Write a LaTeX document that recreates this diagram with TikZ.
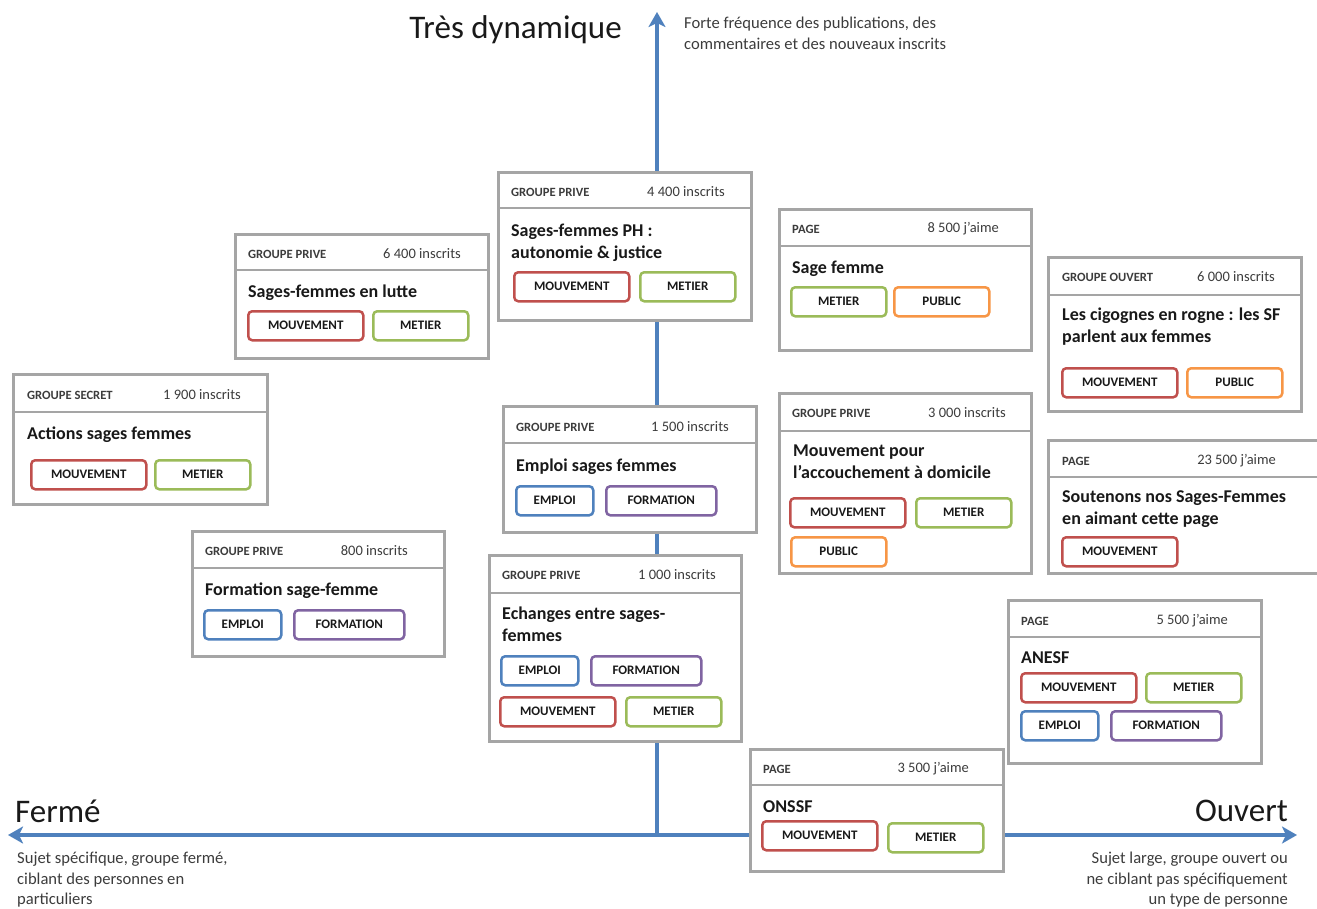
\documentclass[tikz,border=0pt]{standalone}
\usepackage{fontspec}
\setmainfont{Carlito}
\usetikzlibrary{arrows.meta}

\definecolor{axisblue}{RGB}{79,129,189}
\definecolor{cardgray}{RGB}{165,165,165}
\definecolor{inkgray}{RGB}{60,60,60}
\definecolor{titleink}{RGB}{25,25,25}
\definecolor{tagred}{RGB}{192,80,77}
\definecolor{taggreen}{RGB}{155,187,89}
\definecolor{tagblue}{RGB}{79,129,189}
\definecolor{tagpurple}{RGB}{128,100,162}
\definecolor{tagorange}{RGB}{247,150,70}

\begin{document}
\begin{tikzpicture}[x=1pt, y=-1pt,
    axis/.style={draw=axisblue, line width=4pt},
    axislabel/.style={inner sep=0pt, text=titleink, font=\fontsize{33}{38}\selectfont},
    axisnote/.style={inner sep=0pt, text=inkgray, yshift=7pt, font=\fontsize{16.6}{20.5}\selectfont},
    card/.style={draw=cardgray, line width=2.7pt, fill=white, rectangle, inner sep=0pt, anchor=north west},
    sepline/.style={draw=cardgray, line width=2.2pt},
    headtext/.style={anchor=west, inner sep=0pt, text=inkgray, font=\bfseries\fontsize{12.6}{14}\selectfont},
    counttext/.style={anchor=east, inner sep=0pt, text=inkgray, font=\fontsize{14.5}{17}\selectfont},
    titletext/.style={anchor=north west, inner sep=0pt, align=left, yshift=6pt, text=titleink, font=\bfseries\fontsize{18}{22}\selectfont},
    tagbox/.style={draw=#1, rounded corners=4pt, line width=2.5pt, fill=white, minimum height=29pt, inner sep=0pt, anchor=north west, text=titleink, font=\bfseries\fontsize{13}{15}\selectfont},
    mvt/.style={tagbox=tagred, minimum width=115pt},
    metier/.style={tagbox=taggreen, minimum width=95pt},
    emploi/.style={tagbox=tagblue, minimum width=77pt},
    formation/.style={tagbox=tagpurple, minimum width=110pt},
    public/.style={tagbox=tagorange, minimum width=95pt}]

  \useasboundingbox (0,0) rectangle (1317,908);

  % axes
  \coordinate (origin) at (657,835);
  \coordinate (top) at (657,12);
  \coordinate (left) at (8,835);
  \coordinate (right) at (1297,835);
  \draw[axis, -{Stealth[length=15pt, width=17pt, inset=4pt]}] (origin) -- (top);
  \draw[axis, {Stealth[length=15pt, width=17pt, inset=4pt]}-{Stealth[length=15pt, width=17pt, inset=4pt]}] (left) -- (right);

  \node[axislabel, anchor=east] (dynLabel) at (622,30) {Très dynamique};
  \node[axisnote, anchor=north west, align=left] (dynNote) at (684,24) {Forte fréquence des publications, des\\commentaires et des nouveaux inscrits};
  \node[axislabel, anchor=west] (fermeLabel) at (15,811) {Fermé};
  \node[axisnote, anchor=north west, align=left] (fermeNote) at (17,859) {Sujet spécifique, groupe fermé,\\ciblant des personnes en\\particuliers};
  \node[axislabel, anchor=east] (ouvertLabel) at (1288,811) {Ouvert};
  \node[axisnote, anchor=north east, align=right] (ouvertNote) at (1288,859) {Sujet large, groupe ouvert ou\\ne ciblant pas spécifiquement\\un type de personne};

  % Sages-femmes PH
  \node[card, minimum width=253pt, minimum height=148pt] (cardPH) at (497,171) {};
  \draw[sepline] ([yshift=-37pt]cardPH.north west) -- ([yshift=-37pt]cardPH.north east);
  \node[headtext] (headPH) at (511,192) {GROUPE PRIVE};
  \node[counttext] (countPH) at (725,192) {4 400 inscrits};
  \node[titletext] (titlePH) at (511,230) {Sages-femmes PH :\\autonomie \& justice};
  \node[mvt] (mvtPH) at (513,271) {MOUVEMENT};
  \node[metier] (metierPH) at (639,271) {METIER};

  % Sages-femmes en lutte
  \node[card, minimum width=253pt, minimum height=124pt] (cardLutte) at (234,233) {};
  \draw[sepline] ([yshift=-37pt]cardLutte.north west) -- ([yshift=-37pt]cardLutte.north east);
  \node[headtext] (headLutte) at (248,254) {GROUPE PRIVE};
  \node[counttext] (countLutte) at (461,254) {6 400 inscrits};
  \node[titletext] (titleLutte) at (248,291) {Sages-femmes en lutte};
  \node[mvt] (mvtLutte) at (247,310) {MOUVEMENT};
  \node[metier] (metierLutte) at (372,310) {METIER};

  % Actions sages femmes
  \node[card, minimum width=254pt, minimum height=130pt] (cardActions) at (12,373) {};
  \draw[sepline] ([yshift=-39pt]cardActions.north west) -- ([yshift=-39pt]cardActions.north east);
  \node[headtext] (headActions) at (27,395) {GROUPE SECRET};
  \node[counttext] (countActions) at (241,395) {1 900 inscrits};
  \node[titletext] (titleActions) at (27,433) {Actions sages femmes};
  \node[mvt] (mvtActions) at (30,459) {MOUVEMENT};
  \node[metier] (metierActions) at (154,459) {METIER};

  % Emploi sages femmes
  \node[card, minimum width=253pt, minimum height=126pt] (cardEmploi) at (502,405) {};
  \draw[sepline] ([yshift=-38pt]cardEmploi.north west) -- ([yshift=-38pt]cardEmploi.north east);
  \node[headtext] (headEmploi) at (516,427) {GROUPE PRIVE};
  \node[counttext] (countEmploi) at (729,427) {1 500 inscrits};
  \node[titletext] (titleEmploi) at (516,465) {Emploi sages femmes};
  \node[emploi] (emploiEmploi) at (515,485) {EMPLOI};
  \node[formation] (formationEmploi) at (605,485) {FORMATION};

  % Formation sage-femme
  \node[card, minimum width=252pt, minimum height=125pt] (cardFormation) at (191,530) {};
  \draw[sepline] ([yshift=-38pt]cardFormation.north west) -- ([yshift=-38pt]cardFormation.north east);
  \node[headtext] (headFormation) at (205,551) {GROUPE PRIVE};
  \node[counttext] (countFormation) at (408,551) {800 inscrits};
  \node[titletext] (titleFormation) at (205,589) {Formation sage-femme};
  \node[emploi] (emploiFormation) at (203,609) {EMPLOI};
  \node[formation] (formationFormation) at (293,609) {FORMATION};

  % Echanges entre sages-femmes
  \node[card, minimum width=252pt, minimum height=186pt] (cardEchanges) at (488,554) {};
  \draw[sepline] ([yshift=-39pt]cardEchanges.north west) -- ([yshift=-39pt]cardEchanges.north east);
  \node[headtext] (headEchanges) at (502,575) {GROUPE PRIVE};
  \node[counttext] (countEchanges) at (716,575) {1 000 inscrits};
  \node[titletext] (titleEchanges) at (502,613) {Echanges entre sages-\\femmes};
  \node[emploi] (emploiEchanges) at (500,655) {EMPLOI};
  \node[formation] (formationEchanges) at (590,655) {FORMATION};
  \node[mvt] (mvtEchanges) at (499,696) {MOUVEMENT};
  \node[metier] (metierEchanges) at (625,696) {METIER};

  % Sage femme
  \node[card, minimum width=252pt, minimum height=141pt] (cardSage) at (778,208) {};
  \draw[sepline] ([yshift=-38pt]cardSage.north west) -- ([yshift=-38pt]cardSage.north east);
  \node[headtext] (headSage) at (792,229) {PAGE};
  \node[counttext] (countSage) at (999,229) {8 500 j’aime};
  \node[titletext] (titleSage) at (792,267) {Sage femme};
  \node[metier] (metierSage) at (790,286) {METIER};
  \node[public] (publicSage) at (893,286) {PUBLIC};

  % Les cigognes en rogne
  \node[card, minimum width=253pt, minimum height=154pt] (cardCigognes) at (1047,256) {};
  \draw[sepline] ([yshift=-39pt]cardCigognes.north west) -- ([yshift=-39pt]cardCigognes.north east);
  \node[headtext] (headCigognes) at (1062,277) {GROUPE OUVERT};
  \node[counttext] (countCigognes) at (1275,277) {6 000 inscrits};
  \node[titletext] (titleCigognes) at (1062,314) {Les cigognes en rogne : les SF\\parlent aux femmes};
  \node[mvt] (mvtCigognes) at (1061,367) {MOUVEMENT};
  \node[public] (publicCigognes) at (1186,367) {PUBLIC};

  % Mouvement pour l'accouchement a domicile
  \node[card, minimum width=252pt, minimum height=180pt] (cardDomicile) at (778,392) {};
  \draw[sepline] ([yshift=-39pt]cardDomicile.north west) -- ([yshift=-39pt]cardDomicile.north east);
  \node[headtext] (headDomicile) at (792,413) {GROUPE PRIVE};
  \node[counttext] (countDomicile) at (1006,413) {3 000 inscrits};
  \node[titletext] (titleDomicile) at (793,451) {Mouvement pour\\l’accouchement à domicile};
  \node[mvt] (mvtDomicile) at (789,497) {MOUVEMENT};
  \node[metier] (metierDomicile) at (915,497) {METIER};
  \node[public] (publicDomicile) at (790,536) {PUBLIC};

  % Soutenons nos Sages-Femmes
  \node[card, minimum width=280pt, minimum height=133pt] (cardSoutien) at (1047,439) {};
  \draw[sepline] ([yshift=-38pt]cardSoutien.north west) -- ([yshift=-38pt]cardSoutien.north east);
  \node[headtext] (headSoutien) at (1062,461) {PAGE};
  \node[counttext] (countSoutien) at (1276,461) {23 500 j’aime};
  \node[titletext] (titleSoutien) at (1062,496) {Soutenons nos Sages-Femmes\\en aimant cette page};
  \node[mvt] (mvtSoutien) at (1061,536) {MOUVEMENT};

  % ANESF
  \node[card, minimum width=253pt, minimum height=163pt] (cardAnesf) at (1007,599) {};
  \draw[sepline] ([yshift=-38pt]cardAnesf.north west) -- ([yshift=-38pt]cardAnesf.north east);
  \node[headtext] (headAnesf) at (1021,621) {PAGE};
  \node[counttext] (countAnesf) at (1228,621) {5 500 j’aime};
  \node[titletext] (titleAnesf) at (1021,657) {ANESF};
  \node[mvt] (mvtAnesf) at (1020,672) {MOUVEMENT};
  \node[metier] (metierAnesf) at (1145,672) {METIER};
  \node[emploi] (emploiAnesf) at (1020,710) {EMPLOI};
  \node[formation] (formationAnesf) at (1110,710) {FORMATION};

  % ONSSF
  \node[card, minimum width=253pt, minimum height=122pt] (cardOnssf) at (749,748) {};
  \draw[sepline] ([yshift=-37pt]cardOnssf.north west) -- ([yshift=-37pt]cardOnssf.north east);
  \node[headtext] (headOnssf) at (763,769) {PAGE};
  \node[counttext] (countOnssf) at (969,769) {3 500 j’aime};
  \node[titletext] (titleOnssf) at (763,806) {ONSSF};
  \node[mvt] (mvtOnssf) at (761,820) {MOUVEMENT};
  \node[metier] (metierOnssf) at (887,822) {METIER};
\end{tikzpicture}
\end{document}
